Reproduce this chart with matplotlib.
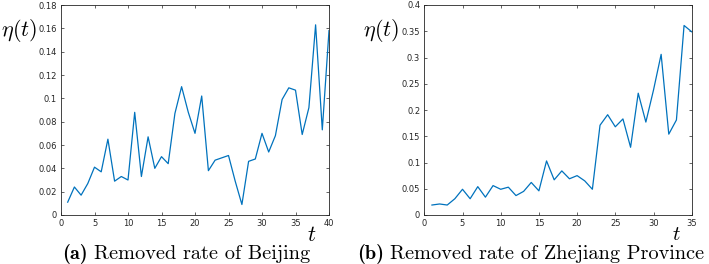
import matplotlib
matplotlib.use("Agg")
import matplotlib.pyplot as plt

plt.rcParams['mathtext.fontset'] = 'cm'
plt.rcParams['axes.unicode_minus'] = False

t_bj = list(range(1, 41))
eta_bj = [0.011, 0.024, 0.017, 0.027, 0.041, 0.037, 0.065, 0.029, 0.033, 0.030,
          0.088, 0.033, 0.067, 0.040, 0.050, 0.044, 0.087, 0.110, 0.088, 0.070,
          0.102, 0.038, 0.047, 0.049, 0.051, 0.029, 0.009, 0.046, 0.048, 0.070,
          0.054, 0.068, 0.099, 0.109, 0.107, 0.069, 0.092, 0.163, 0.073, 0.158]
t_zj = list(range(1, 36))
eta_zj = [0.019, 0.021, 0.019, 0.031, 0.049, 0.031, 0.054, 0.034, 0.056, 0.049,
          0.053, 0.037, 0.045, 0.062, 0.046, 0.103, 0.067, 0.084, 0.069, 0.075,
          0.065, 0.049, 0.171, 0.191, 0.168, 0.183, 0.129, 0.232, 0.177, 0.238,
          0.306, 0.154, 0.181, 0.361, 0.349]

bj_yticks = [0, 0.02, 0.04, 0.06, 0.08, 0.1, 0.12, 0.14, 0.16, 0.18]
bj_ylabels = ['0', '0.02', '0.04', '0.06', '0.08', '0.1', '0.12', '0.14', '0.16', '0.18']
bj_xticks = [0, 5, 10, 15, 20, 25, 30, 35, 40]
zj_yticks = [0, 0.05, 0.1, 0.15, 0.2, 0.25, 0.3, 0.35, 0.4]
zj_ylabels = ['0', '0.05', '0.1', '0.15', '0.2', '0.25', '0.3', '0.35', '0.4']
zj_xticks = [0, 5, 10, 15, 20, 25, 30, 35]

captions = [('(a)', 'Removed rate of Beijing'),
            ('(b)', 'Removed rate of Zhejiang Province')]

W, H = 709, 264
fig = plt.figure(figsize=(W/100, H/100), dpi=100)
color = '#0072BD'
tickc = '#262626'

def setup(ax, x, y, xticks, yticks, ylabels, xmax, ymax):
    ax.plot(x, y, color=color, lw=0.9)
    ax.set_xlim(0, xmax)
    ax.set_ylim(0, ymax)
    ax.set_xticks(xticks)
    ax.set_xticklabels([str(v) for v in xticks])
    ax.set_yticks(yticks)
    ax.set_yticklabels(ylabels)
    ax.tick_params(direction='in', top=True, right=True, length=2.5, width=0.5,
                   labelsize=6, colors=tickc, pad=3)
    for s in ax.spines.values():
        s.set_linewidth(0.6)
        s.set_color(tickc)

ax1 = fig.add_axes([61/W, 1-215/H, 268/W, 210/H])
setup(ax1, t_bj, eta_bj, bj_xticks, bj_yticks, bj_ylabels, 40, 0.18)
ax2 = fig.add_axes([424.3/W, 1-215/H, 267.4/W, 210/H])
setup(ax2, t_zj, eta_zj, zj_xticks, zj_yticks, zj_ylabels, 35, 0.4)

fig.text(1/W, 1-30/H, r'$\eta(t)$', fontsize=16, va='center', ha='left')
fig.text(363/W, 1-30/H, r'$\eta(t)$', fontsize=16, va='center', ha='left')
fig.text(312/W, 1-235/H, r'$t$', fontsize=16, va='center', ha='center')
fig.text(676/W, 1-234/H, r'$t$', fontsize=15, va='center', ha='center')

fig.canvas.draw()
renderer = fig.canvas.get_renderer()
fs = 14.6
for (lab, txt), x0 in zip(captions, [62, 357]):
    t1 = fig.text(x0/W, 1-254/H, lab, family='cmb10', fontsize=fs, va='center', ha='left')
    bb = t1.get_window_extent(renderer)
    fig.text((bb.x1 + 6)/W, 1-254/H, txt, family='cmr10', fontsize=fs, va='center', ha='left')

fig.savefig('out.png', dpi=100)
